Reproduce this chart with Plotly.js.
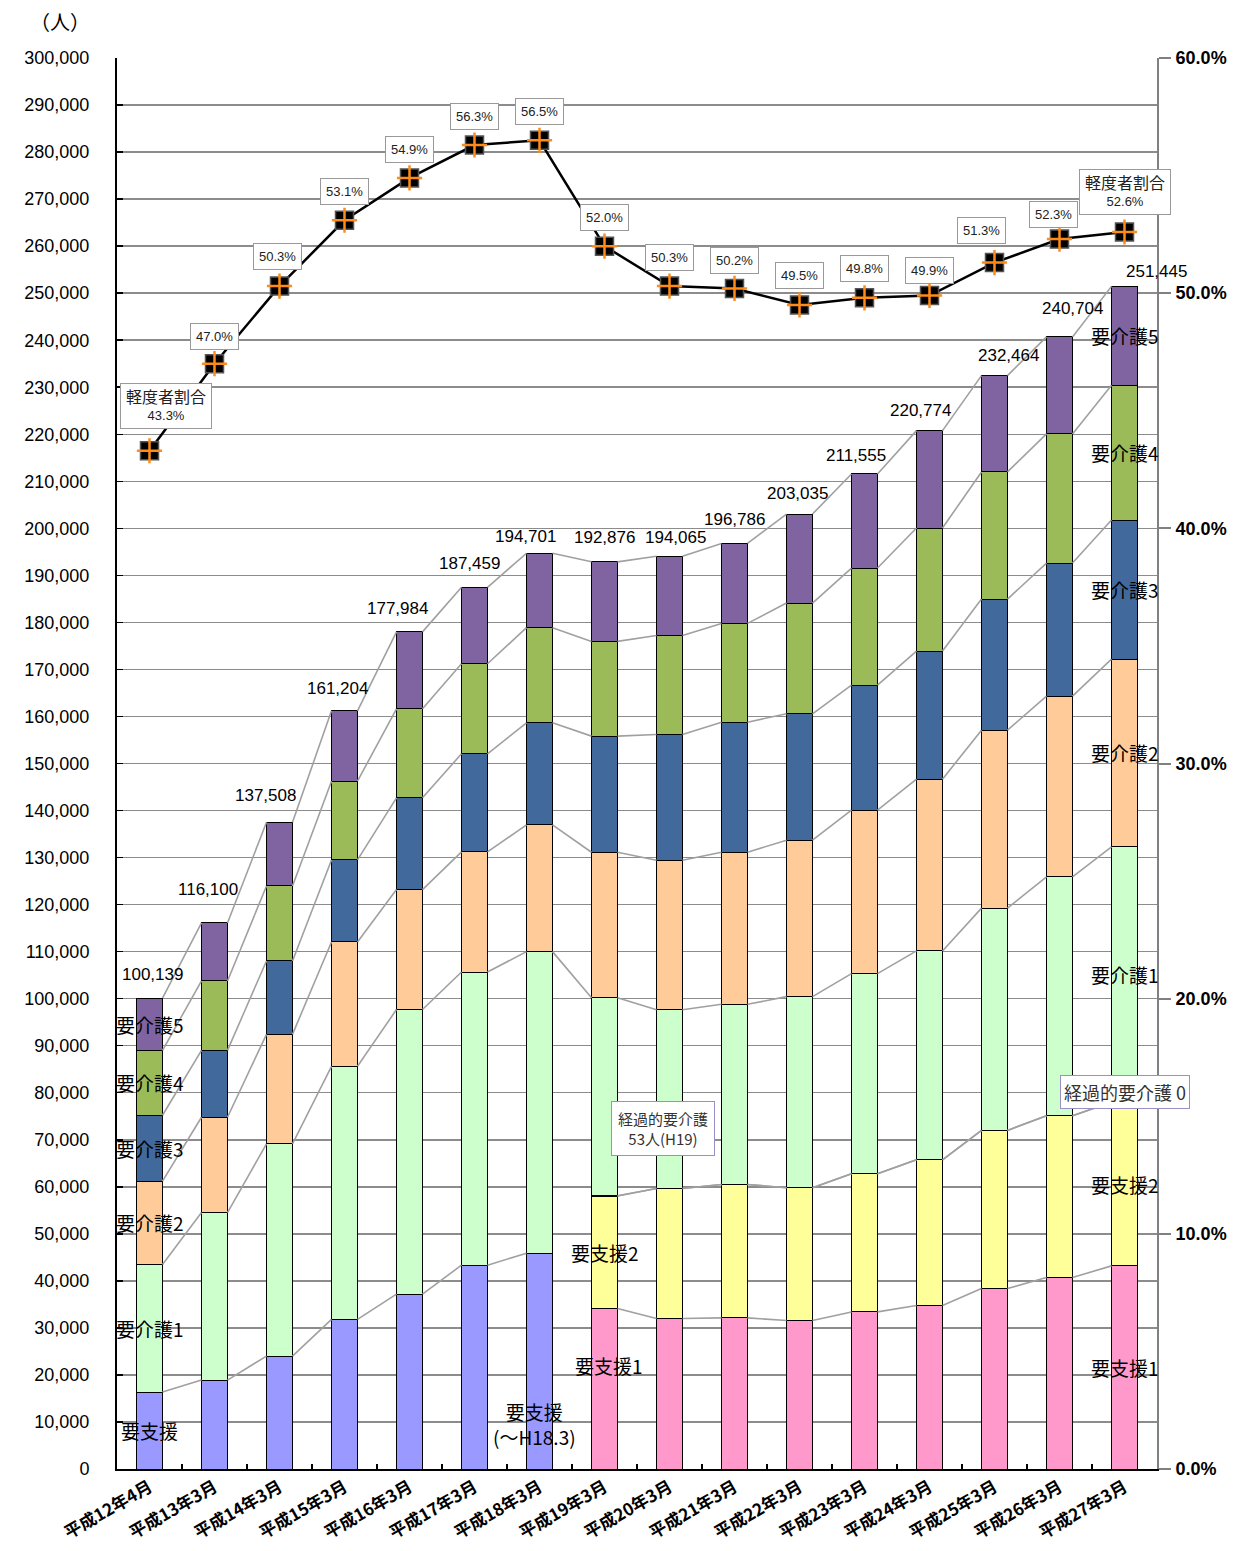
<!DOCTYPE html>
<html><head><meta charset="utf-8">
<script src="https://cdn.plot.ly/plotly-3.0.1.min.js"></script>
<style>html,body{margin:0;padding:0;background:#fff}#chart{width:1236px;height:1551px}</style>
</head><body><div id="chart"></div>
<script>
const categories = ['平成12年4月','平成13年3月','平成14年3月','平成15年3月','平成16年3月','平成17年3月','平成18年3月','平成19年3月','平成20年3月','平成21年3月','平成22年3月','平成23年3月','平成24年3月','平成25年3月','平成26年3月','平成27年3月'];
const youshien   = [16360,18910,24010,31800,37180,43340,45890,null,null,null,null,null,null,null,null,null];
const youshien1  = [null,null,null,null,null,null,null,34110,31990,32130,31560,33400,34750,38370,40710,43190];
const youshien2  = [null,null,null,null,null,null,null,23927,27660,28370,28230,29370,30990,33620,34400,34810];
const keikateki  = [null,null,null,null,null,null,null,53,0,0,0,0,0,0,0,0];
const youkaigo1  = [27120,35620,45110,53820,60520,62330,64110,42120,38010,38300,40640,42550,44410,47260,50790,54270];
const youkaigo2  = [17710,20260,23300,26440,25490,25540,26950,30920,31770,32330,33260,34750,36520,37840,38430,39930];
const youkaigo3  = [14020,14230,15590,17440,19510,20850,21700,24690,26740,27660,26880,26600,27230,27870,28290,29570];
const youkaigo4  = [13810,14740,15960,16740,18930,19150,20220,20140,21060,21000,23540,24890,26170,27030,27450,28660];
const youkaigo5  = [11119,12340,13538,14964,16354,16249,15831,16916,16835,16996,18925,19995,20704,20474,20634,21015];
const totals     = [100139,116100,137508,161204,177984,187459,194701,192876,194065,196786,203035,211555,220774,232464,240704,251445];
const ratio      = [43.3,47.0,50.3,53.1,54.9,56.3,56.5,52.0,50.3,50.2,49.5,49.8,49.9,51.3,52.3,52.6];

const seriesNames = ['要支援','要支援1','要支援2','経過的要介護','要介護1','要介護2','要介護3','要介護4','要介護5'];
const seriesData  = [youshien,youshien1,youshien2,keikateki,youkaigo1,youkaigo2,youkaigo3,youkaigo4,youkaigo5];
const seriesColors= ['#9999FF','#FF99CC','#FFFF99','#FFFFFF','#CCFFCC','#FFCC99','#41699B','#9BBB59','#8064A2'];

const BW = 0.4;
const traces = [];
const n = categories.length;

// cumulative tops / bottoms
const cumTop = [], cumBot = [];
let running = new Array(n).fill(0);
seriesData.forEach((arr)=>{
  const bot = running.slice();
  const top = running.map((r,i)=> arr[i]==null ? r : r + arr[i]);
  cumBot.push(bot); cumTop.push(top); running = top;
});

// series lines (gray connectors) on overlay linear axis
seriesData.forEach((arr,s)=>{
  const xs=[], ys=[];
  for(let i=0;i<n-1;i++){
    if(arr[i]!=null && arr[i+1]!=null){
      xs.push(i+BW/2, i+1-BW/2, null);
      ys.push(cumTop[s][i], cumTop[s][i+1], null);
    }
  }
  traces.push({type:'scatter',mode:'lines',x:xs,y:ys,xaxis:'x2',yaxis:'y',
    line:{color:'#A0A0A0',width:1.6},hoverinfo:'skip',showlegend:false});
});

seriesData.forEach((arr,s)=>{
  traces.push({type:'bar',name:seriesNames[s],x:categories,y:arr,width:BW,
    marker:{color:seriesColors[s],line:{color:'#000',width:1}},showlegend:false});
});

// ratio line
traces.push({type:'scatter',mode:'lines',x:categories,y:ratio,yaxis:'y2',
  line:{color:'#000',width:2.5},showlegend:false});
traces.push({type:'scatter',mode:'markers',x:categories,y:ratio,yaxis:'y2',
  marker:{symbol:'square',size:18,color:'#000',line:{color:'#555',width:1.5}},showlegend:false});
traces.push({type:'scatter',mode:'markers',x:categories,y:ratio,yaxis:'y2',
  marker:{symbol:'cross-thin',size:18,color:'#FF8C1A',line:{color:'#FF8C1A',width:2.5}},showlegend:false});

const annotations = [];
// unit
annotations.push({xref:'paper',yref:'paper',x:-0.055,y:1.026,xanchor:'center',yanchor:'middle',
  text:'（人）',showarrow:false,font:{family:'Noto Sans CJK JP',size:20,color:'#000'}});

// total labels
const totDx=[3,-7,-14,-7,-12,-5,-14,0,6,0,-2,-9,-9,14,13,32];
const totDy=[24,33,27,22,23,24,17,24,19,24,21,18,20,20,28,15];
totals.forEach((t,i)=>{
  annotations.push({x:categories[i],y:t,xref:'x',yref:'y',showarrow:false,
    text:t.toLocaleString('en-US'),xshift:totDx[i],yshift:totDy[i],
    font:{family:'Liberation Sans',size:17,color:'#000'}});
});

// ratio labels
const rDx=[16,0,-2,0,0,0,0,0,0,0,0,0,0,-13,-6,0];
const rDy=[45,27,30,29,28,29,29,29,29,28,29,29,25,32,25,40];
ratio.forEach((r,i)=>{
  const pct = r.toFixed(1)+'%';
  const txt = (i===0||i===n-1) ? '<span style="font-size:16px">軽度者割合</span><br>'+pct : pct;
  annotations.push({x:categories[i],y:r,xref:'x',yref:'y2',showarrow:false,text:txt,
    xshift:rDx[i],yshift:rDy[i],bgcolor:'#fff',bordercolor:'#999',borderwidth:1,borderpad:5,
    font:{family:'Liberation Sans, Noto Sans CJK JP',size:13,color:'#222'}});
});

// segment labels
const segFont={family:'Noto Sans CJK JP',size:19,color:'#000'};
function segLabel(text,s,i,dx,dy){
  const mid=(cumBot[s][i]+cumTop[s][i])/2;
  annotations.push({x:categories[i],y:mid,xref:'x',yref:'y',showarrow:false,text:text,
    xshift:dx||0,yshift:dy||0,font:segFont});
}
[['要介護5',8],['要介護4',7],['要介護3',6],['要介護2',5],['要介護1',4],['要支援',0]].forEach(([t,s])=>segLabel(t,s,0,0,0));
[['要介護5',8],['要介護4',7],['要介護3',6],['要介護2',5],['要介護1',4],['要支援2',2],['要支援1',1]].forEach(([t,s])=>segLabel(t,s,n-1,0,0));
segLabel('要支援2',2,7,0,0);
segLabel('要支援1',1,7,4,23);
segLabel('要支援<br>(～H18.3)',0,6,-5,-63);

// 経過的要介護 labels
annotations.push({x:categories[7],y:cumTop[3][7],xref:'x',yref:'y',showarrow:false,
  text:'経過的要介護<br>53人(H19)',xshift:58,yshift:67,bgcolor:'#fff',bordercolor:'#9a8fc8',borderwidth:1,borderpad:6,
  font:{family:'Noto Sans CJK JP',size:15,color:'#333'}});
annotations.push({x:categories[n-1],y:cumTop[3][n-1],xref:'x',yref:'y',showarrow:false,
  text:'経過的要介護 0',xshift:0,yshift:10,bgcolor:'#fff',bordercolor:'#9a8fc8',borderwidth:1,borderpad:3,
  font:{family:'Noto Sans CJK JP',size:18,color:'#333'}});

const layout = {
  width:1236,height:1551,
  margin:{l:117,r:79,t:58,b:82},
  paper_bgcolor:'#fff',plot_bgcolor:'#fff',
  barmode:'stack',
  showlegend:false,
  xaxis:{type:'category',range:[-0.5,n-0.5],showline:true,linecolor:'#000',linewidth:2,
    ticks:'inside',ticklen:5,tickcolor:'#000',tickwidth:2,tickson:'boundaries',tickangle:-30,
    showgrid:false,zeroline:false,
    tickfont:{family:'Noto Sans CJK JP',size:17,color:'#000',weight:'bold'}},
  xaxis2:{overlaying:'x',range:[-0.5,n-0.5],visible:false,fixedrange:true},
  yaxis:{range:[0,300000],dtick:10000,tickformat:',d',showline:true,linecolor:'#000',linewidth:2,
    ticks:'inside',ticklen:6,tickcolor:'#000',tickwidth:1.5,showgrid:true,gridcolor:'#8c8c8c',gridwidth:1.5,
    zeroline:false,ticklabelstandoff:22,
    tickfont:{family:'Liberation Sans',size:18,color:'#000'}},
  yaxis2:{overlaying:'y',side:'right',range:[0,60],dtick:10,tickformat:'.1f',ticksuffix:'%',
    showline:true,linecolor:'#808080',linewidth:2,ticks:'outside',ticklen:12,tickcolor:'#808080',tickwidth:2,
    showgrid:false,zeroline:false,ticklabelstandoff:1,
    tickfont:{family:'Liberation Sans',size:18,color:'#000',weight:'bold'}},
  annotations:annotations
};
Plotly.newPlot('chart',traces,layout,{displayModeBar:false,staticPlot:true});
</script></body></html>
